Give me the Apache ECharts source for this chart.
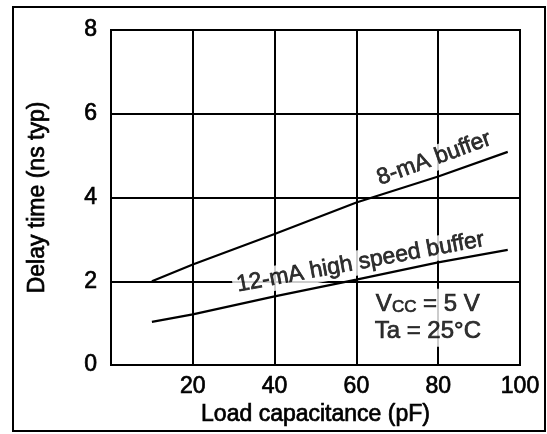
<!DOCTYPE html>
<html>
<head>
<meta charset="utf-8">
<script src="https://cdn.jsdelivr.net/npm/echarts@6/dist/echarts.min.js"></script>
<style>
  html, body { margin: 0; padding: 0; background: #fff; }
  #chart { width: 547px; height: 434px; }
</style>
</head>
<body>
<div id="chart"></div>
<script>
// Delay time vs. load capacitance for the two output buffer types
const loadCap8mA = [10, 20, 40, 60, 80, 97];
const delay8mA = [2.0, 2.4, 3.13, 3.88, 4.5, 5.09];
const loadCap12mA = [10, 20, 40, 60, 80, 97];
const delay12mA = [1.03, 1.21, 1.64, 2.04, 2.45, 2.75];

const xTicks = [0, 20, 40, 60, 80, 100];
const yTicks = [0, 2, 4, 6, 8];

// Curve captions, anchored in data coordinates
const captionNames = ['8-mA buffer', '12-mA high speed buffer'];
const captionAnchors = [[79, 4.93], [61, 2.45]];
const captionAngles = [20, 10.5];

// Test-condition note
const conditionAnchor = [80.4, 1.13];

const FONT = '"Liberation Sans", Arial, Helvetica, sans-serif';
// slightly heavier glyphs, like printed datasheet lettering
const INK = { color: '#000', fontFamily: FONT, textBorderColor: '#000', textBorderWidth: 0.7 };

function pairs(xs, ys) { return xs.map((x, i) => [x, ys[i]]); }

const chart = echarts.init(document.getElementById('chart'), null, { renderer: 'canvas' });

const axisLine = { lineStyle: { color: '#000', width: 2 } };
const gridLine = { show: true, lineStyle: { color: '#000', width: 2, type: 'solid' } };

const option = {
  backgroundColor: '#fff',
  animation: false,
  textStyle: { fontFamily: FONT, color: '#000' },
  grid: {
    left: 111, right: 27, top: 30, bottom: 69,
    show: true, borderColor: '#000', borderWidth: 2, backgroundColor: 'transparent'
  },
  graphic: [{
    type: 'rect',
    shape: { x: 13, y: 7, width: 532, height: 424 },
    style: { fill: 'none', stroke: '#000', lineWidth: 2 },
    silent: true
  }],
  xAxis: {
    type: 'value',
    min: xTicks[0], max: xTicks[xTicks.length - 1], interval: xTicks[1] - xTicks[0],
    axisLine, axisTick: { show: false }, splitLine: gridLine,
    axisLabel: {
      margin: 10, fontSize: 23, ...INK,
      formatter: v => (v === 0 ? '' : String(v))
    },
    name: 'Load capacitance (pF)', nameLocation: 'middle', nameGap: 30,
    nameTextStyle: { fontSize: 23, ...INK }
  },
  yAxis: {
    type: 'value',
    min: yTicks[0], max: yTicks[yTicks.length - 1], interval: yTicks[1] - yTicks[0],
    axisLine: { show: true, ...axisLine }, axisTick: { show: false }, splitLine: gridLine,
    axisLabel: { margin: 14, fontSize: 23, ...INK },
    name: 'Delay time (ns typ)', nameLocation: 'middle', nameGap: 62,
    nameTextStyle: { fontSize: 23, ...INK }
  },
  series: [
    {
      name: '8-mA buffer', type: 'line', data: pairs(loadCap8mA, delay8mA),
      showSymbol: false, lineStyle: { color: '#000', width: 2.2 }, z: 3
    },
    {
      name: '12-mA high speed buffer', type: 'line', data: pairs(loadCap12mA, delay12mA),
      showSymbol: false, lineStyle: { color: '#000', width: 2.2 }, z: 3
    },
    {
      type: 'scatter', symbolSize: 0, z: 4, silent: true,
      data: captionAnchors.map((p, i) => ({
        value: p,
        label: {
          show: true, position: 'inside', formatter: captionNames[i],
          rotate: captionAngles[i], fontSize: 23, ...INK,
          backgroundColor: '#fff', padding: [1, 4]
        }
      }))
    },
    {
      type: 'scatter', symbolSize: 0, z: 4, silent: true,
      data: [{
        value: conditionAnchor,
        label: {
          show: true, position: 'inside',
          formatter: '{v|V}{s|CC}{v| = 5 V}\n{v|Ta = 25°C}',
          backgroundColor: '#fff', padding: [2, 30, 2, 6], align: 'center',
          rich: {
            v: { fontSize: 24, lineHeight: 27, ...INK },
            s: { fontSize: 17, lineHeight: 27, padding: [6, 0, 0, 0], ...INK }
          }
        }
      }]
    }
  ]
};

chart.setOption(option);
</script>
</body>
</html>
